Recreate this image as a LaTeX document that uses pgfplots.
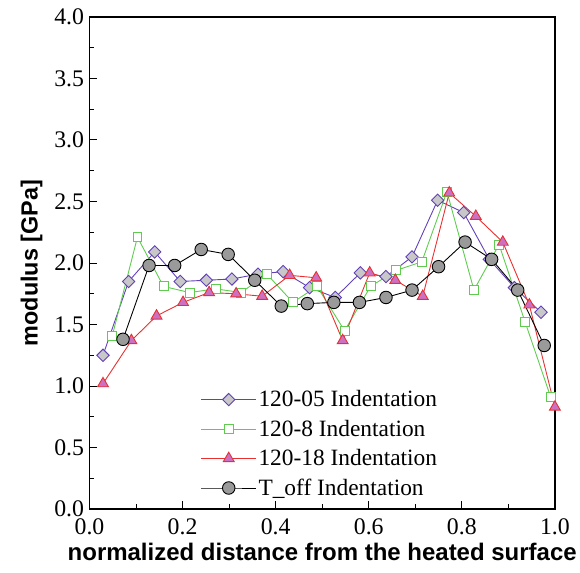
\documentclass[border=0pt]{standalone}
\usepackage{pgfplots}
\pgfplotsset{compat=1.18}
\usepackage{fontspec}
\setmainfont{Liberation Serif}
\newfontfamily\labelfont{Liberation Sans}
\definecolor{cpurple}{HTML}{6240B8}
\definecolor{cgrayfill}{HTML}{C8C8C8}
\definecolor{cgreen}{HTML}{5FCC4F}
\definecolor{cred}{HTML}{E83030}
\definecolor{cpink}{HTML}{CC70C4}
\definecolor{ccircle}{HTML}{9A9A9A}
\begin{document}
\begin{tikzpicture}[x=1bp,y=1bp]
\begin{axis}[
  scale only axis,
  width=468bp, height=495bp,
  xmin=0, xmax=1, ymin=0, ymax=4,
  xtick={0,0.2,0.4,0.6,0.8,1.0}, ytick={0,0.5,1,1.5,2,2.5,3,3.5,4},
  xticklabels={0.0,0.2,0.4,0.6,0.8,1.0},
  yticklabels={0.0,0.5,1.0,1.5,2.0,2.5,3.0,3.5,4.0},
  minor xtick={0.1,0.3,0.5,0.7,0.9},
  minor ytick={0.25,0.75,...,3.75},
  tick pos=left, tick align=inside,
  major tick length=8bp, minor tick length=5bp,
  every tick/.style={black, line width=1bp},
  axis line style={line width=1.6bp},
  tick label style={font=\rmfamily\fontsize{24}{26}\selectfont},
  xticklabel style={yshift=-6.5bp},
  yticklabel style={xshift=-2bp},
  xlabel={\labelfont\bfseries\fontsize{24.2}{27}\selectfont normalized distance from the heated surface},
  ylabel={\labelfont\bfseries\fontsize{23.6}{27}\selectfont modulus [GPa]},
  xlabel style={yshift=-1.5bp},
  ylabel style={yshift=5bp},
  legend style={at={(0.239,0.245)}, anchor=north west, draw=none, fill=none,
    font=\rmfamily\fontsize{23.6}{26}\selectfont, row sep=7.8bp, inner sep=0pt,
    /tikz/every even column/.append style={column sep=3bp}},
  legend cell align=left,
  legend image code/.code={\draw[mark repeat=2,mark phase=2] plot coordinates {(0bp,0bp)(27.5bp,0bp)(55bp,0bp)};},
  clip=false,
]
\path (rel axis cs:-0.1923,-0.1293) rectangle (rel axis cs:1.0470,1.0343);
\addplot[cpurple, line width=0.9bp, mark=square*, mark size=4.4bp,
  mark options={rotate=45, fill=cgrayfill, draw=cpurple, line width=0.9bp}] coordinates {
(0.029,1.25) (0.084,1.85) (0.140,2.09) (0.195,1.85) (0.251,1.86) (0.306,1.87)
(0.362,1.91) (0.416,1.93) (0.473,1.80) (0.528,1.72) (0.582,1.92) (0.637,1.89)
(0.693,2.05) (0.748,2.51) (0.804,2.41) (0.859,2.03) (0.913,1.80) (0.970,1.60)};
\addlegendentry{120-05 Indentation}
\addplot[cgreen, line width=0.9bp, mark=square*, mark size=4.5bp,
  mark options={fill=white, draw=cgreen, line width=0.9bp}] coordinates {
(0.049,1.41) (0.103,2.21) (0.159,1.81) (0.215,1.76) (0.271,1.79) (0.326,1.76)
(0.381,1.91) (0.437,1.68) (0.489,1.81) (0.548,1.45) (0.604,1.81) (0.659,1.94)
(0.714,2.01) (0.768,2.58) (0.826,1.78) (0.880,2.15) (0.936,1.52) (0.991,0.91)};
\addlegendentry{120-8 Indentation}
\addplot[cred, line width=0.9bp, mark=triangle*, mark size=6.3bp,
  mark options={fill=cpink, draw=cred, line width=0.9bp}] coordinates {
(0.029,1.02) (0.090,1.37) (0.144,1.57) (0.201,1.68) (0.257,1.76) (0.315,1.75)
(0.371,1.73) (0.430,1.90) (0.487,1.88) (0.544,1.37) (0.602,1.92) (0.657,1.86)
(0.716,1.73) (0.773,2.57) (0.830,2.38) (0.888,2.17) (0.945,1.66) (1.000,0.83)};
\addlegendentry{120-18 Indentation}
\addplot[black, line width=0.9bp, mark=*, mark size=6.3bp,
  mark options={fill=ccircle, draw=black, line width=0.9bp}] coordinates {
(0.072,1.38) (0.128,1.98) (0.183,1.98) (0.240,2.11) (0.298,2.07) (0.355,1.86)
(0.412,1.65) (0.468,1.67) (0.525,1.68) (0.580,1.68) (0.637,1.72) (0.693,1.78)
(0.750,1.97) (0.807,2.17) (0.864,2.03) (0.920,1.78) (0.977,1.33)};
\addlegendentry{T\_off Indentation}
\end{axis}
\end{tikzpicture}
\end{document}
